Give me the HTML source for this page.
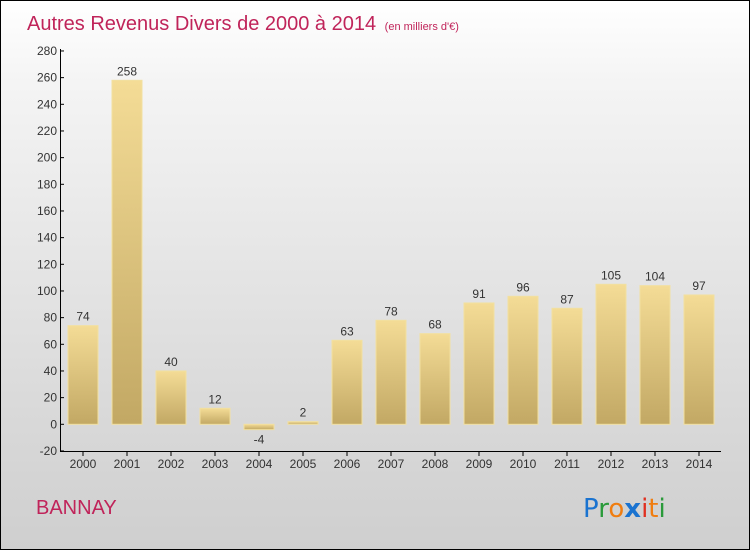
<!DOCTYPE html>
<html><head><meta charset="utf-8"><style>
body{margin:0}
#wrap{position:relative;width:748px;height:548px;border:1px solid #000;background:linear-gradient(#ffffff,#f4f4f4 15%,#d9d9d9 75%,#cfcfcf);font-family:"Liberation Sans",sans-serif;overflow:hidden}
</style></head><body>
<div id="wrap">
<svg width="748" height="548">
<defs><linearGradient id="bg" x1="0" y1="0" x2="0" y2="1"><stop offset="0" stop-color="#f4dc96"/><stop offset="1" stop-color="#c2a864"/></linearGradient></defs>
<text x="26" y="29" font-size="20" fill="#c0245a">Autres Revenus Divers de 2000 à 2014 <tspan font-size="11" dx="3">(en milliers d'€)</tspan></text>
<g id="axes"></g><g id="bars"></g>
<text x="35" y="513" font-size="20" fill="#c0245a">BANNAY</text>
<g font-family="DejaVu Sans,sans-serif" font-size="26">
<text x="582" y="516"><tspan fill="#1a73d0">P</tspan><tspan fill="#2a9a3a">r</tspan><tspan fill="#f07d10">o</tspan><tspan fill="#1a73d0" font-weight="bold">x</tspan><tspan fill="#e03020">i</tspan><tspan fill="#f07d10">t</tspan><tspan fill="#2a9a3a">i</tspan></text></g>
</svg></div>
<script>
const years=["2000","2001","2002","2003","2004","2005","2006","2007","2008","2009","2010","2011","2012","2013","2014"];
const values=[74,258,40,12,-4,2,63,78,68,91,96,87,105,104,97];
const yTicks=[-20,0,20,40,60,80,100,120,140,160,180,200,220,240,260,280];
const NS="http://www.w3.org/2000/svg";
const y=v=>423.3-(v)*400/300;
const x=i=>82+i*44;
function mk(t,a,p){const e=document.createElementNS(NS,t);for(const k in a)e.setAttribute(k,a[k]);p.appendChild(e);return e;}
const ax=document.getElementById('axes'),bg=document.getElementById('bars');
let l=mk('line',{x1:59.5,y1:48,x2:59.5,y2:450,stroke:'#000'},ax);


l=mk('line',{x1:59,y1:450.5,x2:720,y2:450.5,stroke:'#000'},ax);


yTicks.forEach(v=>{mk('line',{x1:59,x2:63,y1:y(v),y2:y(v),stroke:'#000'},ax);
const t=mk('text',{x:56,y:y(v)+4,'text-anchor':'end','font-size':12,fill:'#333'},ax);t.textContent=v;

});
years.forEach((yr,i)=>{mk('line',{x1:x(i),x2:x(i),y1:450,y2:455,stroke:'#000'},ax);
const t=mk('text',{x:x(i),y:467,'text-anchor':'middle','font-size':12,fill:'#333'},ax);t.textContent=yr;


const v=values[i],top=Math.min(y(v),y(0)),h=Math.abs(y(v)-y(0));
const r=mk('rect',{x:x(i)-15,y:top,width:30,height:Math.max(h,1),fill:'url(#bg)',stroke:'#f2e0a0','stroke-width':1},bg);


const lb=mk('text',{x:x(i),y:v>=0?y(v)-5:y(v)+14,'text-anchor':'middle','font-size':12,fill:'#333'},bg);lb.textContent=v;

});
</script></body></html>
